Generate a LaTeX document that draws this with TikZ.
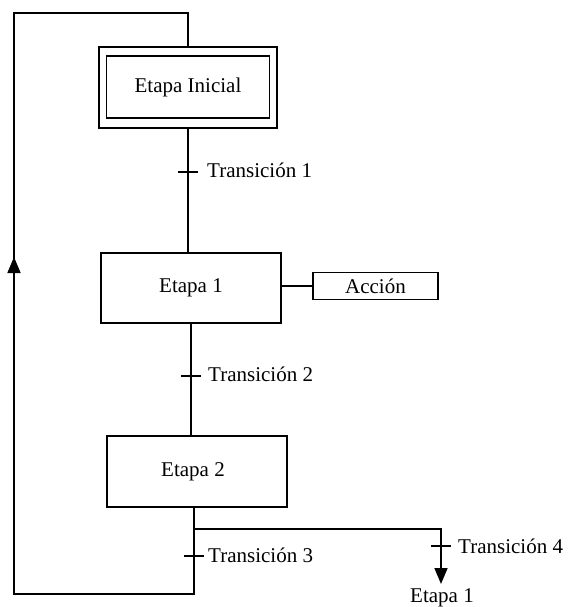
\documentclass[tikz,border=0pt]{standalone}
\usepackage{fontspec}
\setmainfont{Liberation Serif}
\usetikzlibrary{arrows.meta,calc}
\begin{document}
\begin{tikzpicture}[x=1pt,y=-1pt,
  every node/.style={font=\fontsize{21}{25}\selectfont},
  ln/.style={line width=1.6pt,line join=miter},
  box/.style={draw,line width=1.6pt,inner sep=0pt,rectangle},
  tick/.style={line width=1.6pt},
  lab/.style={anchor=base west,inner sep=0pt},
  tip/.style={-{Triangle[length=16pt,width=13pt]}}]
\useasboundingbox (0,0) rectangle (568,607);
% nodes
\node[box,minimum width=178pt,minimum height=81pt] (outer) at (188,87.5) {};
\node[box,minimum width=163pt,minimum height=62pt] (ini) at (188,87) {Etapa Inicial};
\node[box,minimum width=180pt,minimum height=70pt] (e1) at (191,288) {Etapa 1};
\node[box,minimum width=125pt,minimum height=27pt] (acc) at (375.5,286) {Acción};
\node[box,minimum width=180pt,minimum height=71pt] (e2) at (197,471.5) {};
\node[inner sep=0pt] (e2t) at (193,471.5) {Etapa 2};
% coordinates
\coordinate (t1) at (188,172);
\coordinate (t2) at (191,376);
\coordinate (j) at (194,529);
\coordinate (t3) at (194,556);
\coordinate (b) at (194,594);
\coordinate (bl) at (14,594);
\coordinate (tl) at (14,13);
\coordinate (tr) at (188,13);
\coordinate (br) at (441,529);
\coordinate (t4) at (441,546);
\coordinate (end) at (441,584);
\coordinate (am) at (14,257);
% connectors
\draw[ln] (outer.south) -- (outer.south |- e1.north);
\draw[ln] (e1.east |- acc.west) -- (acc.west);
\draw[ln] (e1.south) -- (e1.south |- e2.north);
\draw[ln] (e2.south -| j) -- (j) -- (b) -- (bl) -- (tl) -- (tr) -- (outer.north);
\draw[ln] (j) -- (br) -- (t4);
\draw[ln,tip] (t4) -- (end);
\draw[ln,tip] (bl) -- (am);
% ticks
\foreach \t in {t1,t2,t3,t4}{
  \draw[tick] ($(\t)+(-10,0)$) -- ($(\t)+(10,0)$);
}
% labels
\node[lab] (l1) at ($(t1)+(19,5)$) {Transición 1};
\node[lab] (l2) at ($(t2)+(17,5)$) {Transición 2};
\node[lab] (l3) at ($(t3)+(14,6)$) {Transición 3};
\node[lab] (l4) at ($(t4)+(17,7)$) {Transición 4};
\node[anchor=base,inner sep=0pt] (le) at (442,602) {Etapa 1};
\end{tikzpicture}
\end{document}
